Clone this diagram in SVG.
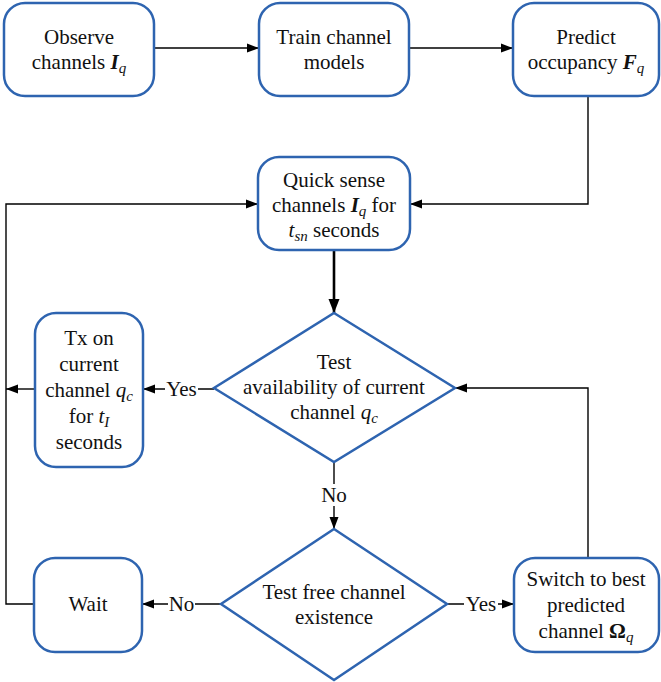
<svg xmlns="http://www.w3.org/2000/svg" width="661" height="682" viewBox="0 0 661 682">
<style>
.box{fill:#fff;stroke:#2E64B0;stroke-width:2.5}
text{font-family:"Liberation Serif","Times New Roman",serif;font-size:21px;fill:#111;text-anchor:middle}
.c{fill:none;stroke:#000;stroke-width:1.4}
.thick{fill:none;stroke:#000;stroke-width:2.6}
.lb{fill:#fff}
.bi{font-weight:bold;font-style:italic}
.i{font-style:italic}
.s{font-size:15px}
</style>
<defs>
<marker id="ah" markerUnits="userSpaceOnUse" markerWidth="12" markerHeight="12" viewBox="0 0 12 12" refX="12" refY="6" orient="auto">
<path d="M0,1.5 L12,6 L0,10.5 z" fill="#000"/>
</marker>
<marker id="ahb" markerUnits="userSpaceOnUse" markerWidth="14" markerHeight="14" viewBox="0 0 14 14" refX="14" refY="7" orient="auto">
<path d="M0,1.5 L14,7 L0,12.5 z" fill="#000"/>
</marker>
</defs>
<rect width="661" height="682" fill="#fff"/>
<g id="connectors">
<path class="c" d="M154,48 H259" marker-end="url(#ah)"/>
<path class="c" d="M409,48 H513" marker-end="url(#ah)"/>
<path class="c" d="M588,96 V204 H410" marker-end="url(#ah)"/>
<path class="thick" d="M334,250 V313" marker-end="url(#ahb)"/>
<path class="c" d="M214,389 H143" marker-end="url(#ah)"/>
<path class="c" d="M35,389 H6" marker-end="url(#ah)"/>
<path class="c" d="M334,462 V529" marker-end="url(#ah)"/>
<path class="c" d="M221,604 H142" marker-end="url(#ah)"/>
<path class="c" d="M447,604 H514" marker-end="url(#ah)"/>
<path class="c" d="M588,558 V388 H455" marker-end="url(#ah)"/>
<path class="c" d="M34,604 H6 V204 H258" marker-end="url(#ah)"/>
<rect class="lb" x="165" y="378" width="33" height="22"/>
<text x="181.500" y="396">Yes</text>
<rect class="lb" x="320" y="484" width="28" height="22"/>
<text x="334" y="502">No</text>
<rect class="lb" x="168" y="593" width="27" height="22"/>
<text x="181.500" y="611">No</text>
<rect class="lb" x="464" y="593" width="34" height="22"/>
<text x="481" y="611">Yes</text>
</g>
<g id="observe">
<rect class="box" x="4" y="3" width="150" height="93" rx="21"/>
<text x="79" y="44">Observe</text>
<text x="79" y="69">channels <tspan class="bi">I</tspan><tspan class="i s" dy="4">q</tspan></text>
</g>
<g id="train">
<rect class="box" x="259" y="3" width="150" height="93" rx="21"/>
<text x="334" y="44">Train channel</text>
<text x="334" y="69">models</text>
</g>
<g id="predict">
<rect class="box" x="513" y="3" width="146" height="93" rx="21"/>
<text x="586" y="44">Predict</text>
<text x="586" y="69">occupancy <tspan class="bi">F</tspan><tspan class="i s" dy="4">q</tspan></text>
</g>
<g id="quicksense">
<rect class="box" x="258" y="157" width="152" height="93" rx="21"/>
<text x="334" y="187">Quick sense</text>
<text x="334" y="212">channels <tspan class="bi">I</tspan><tspan class="i s" dy="4">q</tspan><tspan dy="-4"> for</tspan></text>
<text x="334" y="237"><tspan class="i">t</tspan><tspan class="i s" dy="4">sn</tspan><tspan dy="-4"> seconds</tspan></text>
</g>
<g id="test-availability">
<polygon class="box" points="334,313 455,388 334,462 214,388"/>
<text x="334" y="369">Test</text>
<text x="334" y="394">availability of current</text>
<text x="334" y="419">channel <tspan class="i">q</tspan><tspan class="i s" dy="4">c</tspan></text>
</g>
<g id="tx">
<rect class="box" x="35" y="313" width="108" height="154" rx="21"/>
<text x="89" y="345">Tx on</text>
<text x="89" y="371">current</text>
<text x="89" y="397">channel <tspan class="i">q</tspan><tspan class="i s" dy="4">c</tspan></text>
<text x="89" y="423">for <tspan class="i">t</tspan><tspan class="i s" dy="4">I</tspan></text>
<text x="89" y="449">seconds</text>
</g>
<g id="test-free">
<polygon class="box" points="334,529 447,604 334,680 221,604"/>
<text x="334" y="599">Test free channel</text>
<text x="334" y="624">existence</text>
</g>
<g id="wait">
<rect class="box" x="34" y="558" width="108" height="94" rx="21"/>
<text x="88" y="611">Wait</text>
</g>
<g id="switch">
<rect class="box" x="514" y="558" width="145" height="94" rx="21"/>
<text x="586" y="586">Switch to best</text>
<text x="586" y="612">predicted</text>
<text x="586" y="638">channel <tspan font-weight="bold">Ω</tspan><tspan class="i s" dy="4">q</tspan></text>
</g>
</svg>
